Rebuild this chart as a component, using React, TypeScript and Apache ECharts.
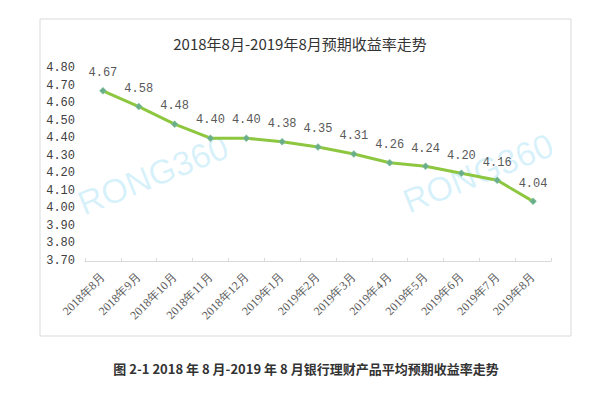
import React, { useEffect, useRef } from "react";
import * as echarts from "echarts";

const categories = [
  "2018年8月", "2018年9月", "2018年10月", "2018年11月", "2018年12月",
  "2019年1月", "2019年2月", "2019年3月", "2019年4月", "2019年5月",
  "2019年6月", "2019年7月", "2019年8月",
];
const yields = [4.67, 4.58, 4.48, 4.4, 4.4, 4.38, 4.35, 4.31, 4.26, 4.24, 4.2, 4.16, 4.04];
const titleText = "2018年8月-2019年8月预期收益率走势";
const captionText = "图 2-1 2018 年 8 月-2019 年 8 月银行理财产品平均预期收益率走势";
const watermark = "RONG360";

export default function App() {
  const ref = useRef<HTMLDivElement>(null);
  useEffect(() => {
    if (!ref.current) return;
    const chart = echarts.init(ref.current, null, { renderer: "svg" });
    const monoFont = "'Liberation Mono', monospace";
    chart.setOption({
      animation: false,
      backgroundColor: "#ffffff",
      title: {
        text: titleText,
        left: "center",
        top: 31,
        textStyle: {
          fontFamily: "'Noto Sans CJK SC', sans-serif",
          fontSize: 15,
          fontWeight: "normal",
          color: "#333333",
        },
      },
      graphic: [
        {
          type: "rect",
          shape: { x: 40, y: 19, width: 531, height: 317 },
          style: { fill: "none", stroke: "#d9d9d9", lineWidth: 1 },
          silent: true,
          z: -10,
        },
        {
          type: "text",
          x: 153,
          y: 175,
          rotation: (22 * Math.PI) / 180,
          style: {
            text: watermark,
            fontSize: 34,
            fontFamily: "Arial, 'Liberation Sans', sans-serif",
            fill: "rgba(0,170,235,0.16)",
            align: "center",
            verticalAlign: "middle",
          },
          silent: true,
          z: -5,
        },
        {
          type: "text",
          x: 478,
          y: 173,
          rotation: (22 * Math.PI) / 180,
          style: {
            text: watermark,
            fontSize: 34,
            fontFamily: "Arial, 'Liberation Sans', sans-serif",
            fill: "rgba(0,170,235,0.16)",
            align: "center",
            verticalAlign: "middle",
          },
          silent: true,
          z: -5,
        },
        {
          type: "text",
          x: 306,
          y: 368,
          style: {
            text: captionText,
            fontSize: 13,
            fontFamily: "'Noto Sans CJK SC', sans-serif",
            fontWeight: "bold",
            fill: "#333333",
            align: "center",
            verticalAlign: "middle",
          },
        },
      ],
      grid: { left: 85, right: 49, top: 68, bottom: 135, containLabel: false },
      xAxis: {
        type: "category",
        data: categories,
        boundaryGap: true,
        axisLine: { lineStyle: { color: "#d9d9d9", width: 1 } },
        axisTick: { show: true, length: 3, inside: true, lineStyle: { color: "#d9d9d9" } },
        axisLabel: {
          rotate: 45,
          interval: 0,
          margin: 14,
          fontSize: 12,
          fontFamily: "'Liberation Serif', serif",
          color: "#595959",
        },
      },
      yAxis: {
        type: "value",
        min: 3.7,
        max: 4.8,
        interval: 0.1,
        splitLine: { show: false },
        axisLine: { show: false },
        axisTick: { show: false },
        axisLabel: {
          margin: 10,
          fontSize: 12,
          fontFamily: monoFont,
          color: "#404040",
          formatter: (v: number) => v.toFixed(2),
        },
      },
      series: [
        {
          type: "line",
          data: yields,
          symbol: "diamond",
          symbolSize: 7,
          lineStyle: { color: "#8dc63f", width: 3 },
          itemStyle: { color: "#6aae8a", borderColor: "#8fc9a4", borderWidth: 0.5 },
          label: {
            show: true,
            position: "top",
            distance: 8,
            fontSize: 12,
            fontFamily: monoFont,
            color: "#595959",
            formatter: (p: any) => Number(p.value).toFixed(2),
          },
        },
      ],
    });
    return () => chart.dispose();
  }, []);
  return (
    <div
      ref={ref}
      style={{ position: "fixed", left: 0, top: 0, width: 600, height: 396 }}
    />
  );
}
